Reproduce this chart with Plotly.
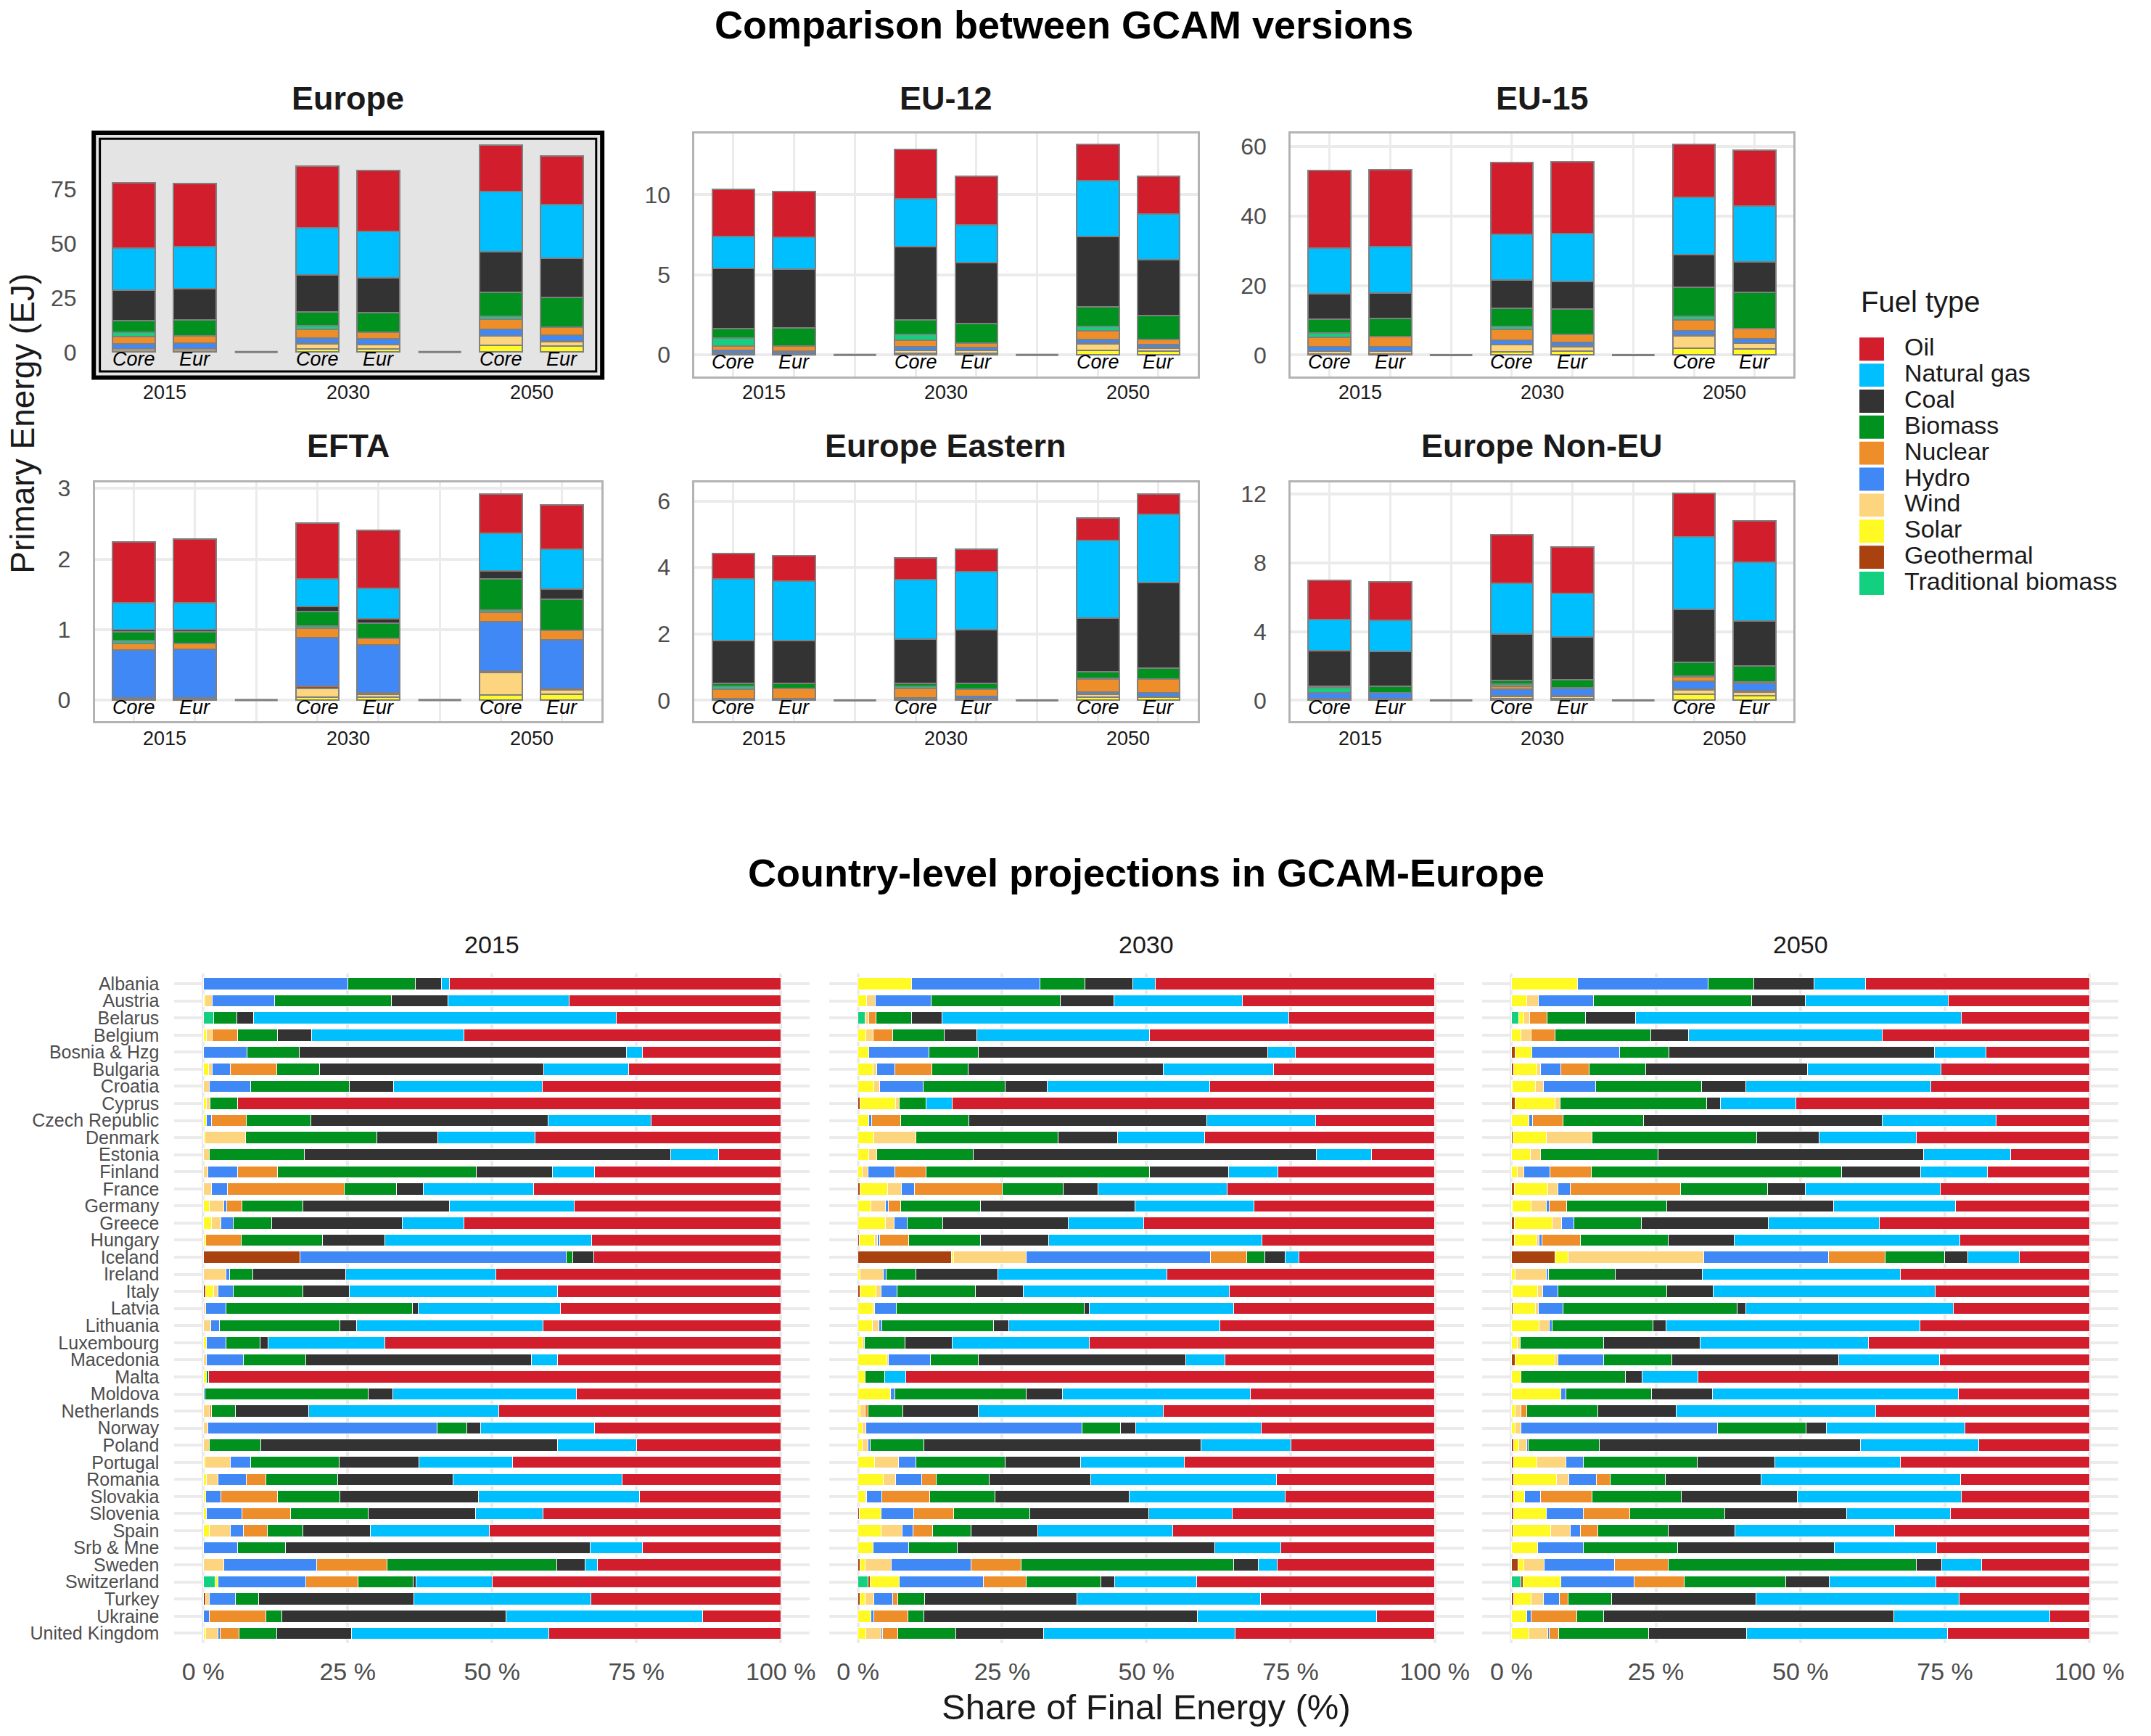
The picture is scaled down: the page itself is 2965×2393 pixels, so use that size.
"""GCAM の版比較と国別エネルギー構成を plotly で描く。"""

import plotly.graph_objects as go

# --- データ ---

FUELS = ["Oil", "Natural gas", "Coal", "Biomass", "Nuclear", "Hydro",
         "Wind", "Solar", "Geothermal", "Traditional biomass"]
FUEL_COLORS = ["#D11D2C", "#00BFFF", "#333333", "#00911F", "#EE8E2B", "#3F88F5",
               "#FCD57E", "#FFFA24", "#A9420F", "#13CF80"]

# 積み上げ順（下 → 上）
TOP_STACK = ["Solar", "Wind", "Geothermal", "Hydro", "Nuclear",
             "Traditional biomass", "Biomass", "Coal", "Natural gas", "Oil"]
# 積み上げ順（左 → 右）
BOTTOM_STACK = ["Traditional biomass", "Geothermal", "Solar", "Wind", "Hydro",
                "Nuclear", "Biomass", "Coal", "Natural gas", "Oil"]

YEARS = ["2015", "2030", "2050"]
SCENARIOS = ["Core", "Eur"]
BAR_SLOTS = ["2015 Core", "2015 Eur", "gap 1", "2030 Core", "2030 Eur",
             "gap 2", "2050 Core", "2050 Eur"]

REGIONS = ["Europe", "EU-12", "EU-15", "EFTA", "Europe Eastern", "Europe Non-EU"]

# 行 = TOP_STACK の燃料, 列 = Core2015, Eur2015, Core2030, Eur2030, Core2050, Eur2050 [EJ]
EUROPE = [
    [0.3, 0.3, 1.3, 1.6, 3.0, 2.9],
    [1.0, 1.1, 2.6, 1.9, 4.5, 2.0],
    [0.1, 0.1, 0.1, 0.1, 0.1, 0.1],
    [2.3, 2.5, 2.4, 2.5, 3.0, 2.8],
    [3.4, 3.5, 4.2, 2.9, 4.6, 3.8],
    [2.1, 0.0, 1.5, 0.0, 1.2, 0.0],
    [5.3, 7.4, 6.5, 9.2, 11.3, 13.6],
    [14.2, 14.3, 17.1, 16.0, 18.7, 17.9],
    [19.4, 19.4, 21.6, 21.4, 27.6, 25.0],
    [29.8, 29.2, 28.3, 28.1, 21.3, 22.2],
]
EU_12 = [
    [0.02, 0.02, 0.12, 0.12, 0.28, 0.25],
    [0.08, 0.08, 0.17, 0.16, 0.42, 0.15],
    [0.01, 0.01, 0.01, 0.01, 0.04, 0.06],
    [0.15, 0.14, 0.20, 0.18, 0.24, 0.20],
    [0.29, 0.32, 0.43, 0.28, 0.51, 0.30],
    [0.49, 0.0, 0.35, 0.0, 0.29, 0.0],
    [0.61, 1.11, 0.89, 1.21, 1.21, 1.51],
    [3.73, 3.68, 4.59, 3.78, 4.39, 3.47],
    [1.99, 1.99, 2.97, 2.39, 3.49, 2.83],
    [2.95, 2.85, 3.07, 3.00, 2.27, 2.38],
]
EU_15 = [
    [0.2, 0.2, 0.9, 1.2, 1.9, 1.7],
    [0.9, 0.9, 2.0, 1.2, 3.7, 1.7],
    [0.1, 0.1, 0.1, 0.1, 0.1, 0.1],
    [1.2, 1.2, 1.2, 1.1, 1.3, 1.2],
    [2.7, 2.8, 3.1, 2.4, 3.1, 2.9],
    [1.2, 0.0, 1.0, 0.0, 1.1, 0.0],
    [4.1, 5.4, 5.1, 7.2, 8.4, 10.5],
    [7.2, 7.3, 8.1, 7.9, 9.2, 8.8],
    [13.1, 13.2, 13.3, 13.9, 16.6, 15.9],
    [22.4, 22.2, 20.6, 20.7, 15.2, 16.1],
]
EFTA = [
    [0.0, 0.0, 0.04, 0.04, 0.07, 0.08],
    [0.01, 0.01, 0.13, 0.04, 0.32, 0.07],
    [0.02, 0.02, 0.03, 0.02, 0.02, 0.02],
    [0.68, 0.69, 0.69, 0.68, 0.70, 0.68],
    [0.09, 0.08, 0.13, 0.09, 0.14, 0.14],
    [0.04, 0.0, 0.03, 0.0, 0.03, 0.0],
    [0.13, 0.17, 0.21, 0.22, 0.44, 0.44],
    [0.03, 0.03, 0.07, 0.06, 0.11, 0.14],
    [0.38, 0.38, 0.39, 0.43, 0.54, 0.57],
    [0.86, 0.90, 0.79, 0.83, 0.55, 0.63],
]
EUROPE_EASTERN = [
    [0.0, 0.0, 0.02, 0.04, 0.10, 0.10],
    [0.0, 0.0, 0.01, 0.02, 0.08, 0.02],
    [0.0, 0.0, 0.0, 0.0, 0.0, 0.0],
    [0.05, 0.05, 0.04, 0.05, 0.07, 0.10],
    [0.29, 0.31, 0.29, 0.23, 0.40, 0.43],
    [0.09, 0.0, 0.07, 0.0, 0.02, 0.0],
    [0.08, 0.16, 0.09, 0.17, 0.20, 0.31],
    [1.30, 1.27, 1.33, 1.61, 1.61, 2.58],
    [1.84, 1.79, 1.79, 1.76, 2.33, 2.05],
    [0.78, 0.77, 0.65, 0.66, 0.68, 0.63],
]
EUROPE_NON_EU = [
    [0.0, 0.0, 0.12, 0.12, 0.35, 0.28],
    [0.05, 0.05, 0.10, 0.10, 0.25, 0.22],
    [0.05, 0.05, 0.06, 0.06, 0.07, 0.06],
    [0.32, 0.35, 0.39, 0.42, 0.45, 0.42],
    [0.02, 0.0, 0.16, 0.05, 0.25, 0.11],
    [0.30, 0.0, 0.11, 0.0, 0.06, 0.0],
    [0.08, 0.36, 0.21, 0.44, 0.77, 0.92],
    [2.05, 2.04, 2.71, 2.50, 3.10, 2.59],
    [1.83, 1.82, 2.94, 2.52, 4.22, 3.44],
    [2.29, 2.23, 2.82, 2.70, 2.53, 2.41],
]
REGION_DATA = [EUROPE, EU_12, EU_15, EFTA, EUROPE_EASTERN, EUROPE_NON_EU]
REGION_YTICKS = [[0, 25, 50, 75], [0, 5, 10], [0, 20, 40, 60],
                 [0, 1, 2, 3], [0, 2, 4, 6], [0, 4, 8, 12]]
REGION_YRANGE = [[-11.3, 100.7], [-1.35, 13.8], [-6.2, 63.7],
                 [-0.30, 3.09], [-0.63, 6.57], [-1.22, 12.7]]

COUNTRIES = [
    "Albania", "Austria", "Belarus", "Belgium", "Bosnia & Hzg", "Bulgaria",
    "Croatia", "Cyprus", "Czech Republic", "Denmark", "Estonia", "Finland",
    "France", "Germany", "Greece", "Hungary", "Iceland", "Ireland", "Italy",
    "Latvia", "Lithuania", "Luxembourg", "Macedonia", "Malta", "Moldova",
    "Netherlands", "Norway", "Poland", "Portugal", "Romania", "Slovakia",
    "Slovenia", "Spain", "Srb & Mne", "Sweden", "Switzerland", "Turkey",
    "Ukraine", "United Kingdom",
]

# 行 = 国, 列 = BOTTOM_STACK の燃料 [%]
SHARES_2015 = [
    [0, 0, 0, 0, 25.0, 0, 11.7, 4.6, 1.3, 57.4],
    [0, 0, 0.3, 1.3, 10.7, 0, 20.3, 9.8, 21.0, 36.6],
    [1.8, 0, 0, 0, 0, 0, 4.0, 2.9, 62.8, 28.5],
    [0, 0, 0.6, 1.0, 0, 4.4, 6.9, 5.8, 26.4, 54.9],
    [0, 0, 0, 0, 7.6, 0, 9.0, 56.7, 2.8, 23.9],
    [0, 0, 0.9, 0.7, 3.1, 8.0, 7.4, 38.9, 14.7, 26.3],
    [0, 0, 0, 1.0, 7.2, 0, 17.1, 7.7, 25.7, 41.3],
    [0, 0, 0.6, 0.6, 0, 0, 4.7, 0, 0, 94.1],
    [0, 0, 0.6, 0, 0.8, 6.0, 11.2, 41.1, 17.8, 22.5],
    [0, 0, 0.3, 7.0, 0, 0, 22.8, 10.5, 16.8, 42.6],
    [0, 0, 0, 1.1, 0, 0, 16.4, 63.4, 8.3, 10.8],
    [0, 0, 0, 0.8, 5.1, 7.0, 34.4, 13.2, 7.3, 32.2],
    [0, 0, 0, 1.4, 2.8, 20.2, 9.0, 4.7, 19.1, 42.8],
    [0, 0, 1.1, 2.4, 0.6, 2.6, 10.6, 25.3, 21.7, 35.7],
    [0, 0, 1.4, 1.6, 2.2, 0, 6.7, 22.6, 10.6, 54.9],
    [0, 0, 0.4, 0, 0, 6.2, 14.0, 10.9, 35.7, 32.8],
    [0, 16.8, 0, 0, 46.1, 0, 1.1, 3.6, 0, 32.4],
    [0, 0, 0, 4.0, 0.6, 0, 4.0, 16.1, 26.0, 49.3],
    [0, 0.4, 1.4, 0.7, 2.7, 0, 12.0, 8.1, 36.1, 38.6],
    [0, 0, 0, 0.4, 3.5, 0, 32.3, 1.0, 24.6, 38.2],
    [0, 0, 0, 1.3, 1.5, 0, 20.9, 2.8, 32.3, 41.2],
    [0, 0, 0.6, 0, 3.3, 0, 6.0, 1.3, 20.2, 68.6],
    [0, 0, 0, 0.5, 6.5, 0, 10.8, 39.0, 4.6, 38.6],
    [0, 0, 0.5, 0, 0, 0, 0.4, 0, 0, 99.1],
    [0, 0, 0, 0, 0.3, 0, 28.3, 4.2, 31.8, 35.4],
    [0, 0, 0, 1.0, 0, 0.4, 4.2, 12.6, 33.0, 48.8],
    [0, 0, 0, 0.8, 39.7, 0, 5.2, 2.3, 19.8, 32.2],
    [0, 0, 0, 1.1, 0, 0, 8.9, 51.3, 13.8, 24.9],
    [0, 0, 0.3, 4.4, 3.5, 0, 15.3, 13.9, 16.2, 46.4],
    [0, 0, 0.5, 2.1, 4.9, 3.3, 12.5, 19.9, 29.3, 27.5],
    [0, 0, 0.4, 0, 2.7, 9.8, 10.7, 24.0, 27.9, 24.5],
    [0, 0, 0.5, 0, 6.2, 8.4, 13.4, 18.6, 11.7, 41.2],
    [0, 0, 1.0, 3.7, 2.3, 4.1, 6.1, 11.8, 20.6, 50.4],
    [0, 0, 0, 0, 5.9, 0, 8.3, 52.8, 9.0, 24.0],
    [0, 0, 0, 3.6, 16.1, 12.1, 29.4, 4.9, 2.1, 31.8],
    [2.1, 0, 0.5, 0, 15.1, 9.1, 9.6, 0.5, 13.1, 50.0],
    [0, 0.4, 0, 0.7, 4.5, 0, 4.0, 26.9, 30.6, 32.9],
    [0, 0, 0, 0, 1.0, 9.8, 2.8, 38.8, 34.1, 13.5],
    [0, 0, 0.4, 2.1, 0.4, 3.3, 6.5, 13.0, 34.2, 40.1],
]
SHARES_2030 = [
    [0, 0, 9.3, 0, 22.2, 0, 7.9, 8.3, 3.8, 48.5],
    [0, 0, 1.5, 1.5, 9.7, 0, 22.4, 9.3, 22.2, 33.4],
    [1.2, 0, 0, 0.7, 0, 1.2, 6.2, 5.3, 60.1, 25.3],
    [0, 0, 1.4, 1.2, 0, 3.4, 9.0, 5.6, 30.0, 49.4],
    [0, 0, 1.9, 0, 10.4, 0, 8.5, 50.2, 4.8, 24.2],
    [0, 0, 2.6, 0.7, 3.1, 6.4, 6.3, 33.8, 19.1, 28.0],
    [0, 0, 2.8, 0.9, 7.6, 0, 14.2, 7.3, 28.2, 39.0],
    [0, 0.3, 6.2, 0.7, 0, 0, 4.6, 0, 4.5, 83.7],
    [0, 0, 1.9, 0, 0.5, 5.0, 11.8, 41.3, 18.8, 20.7],
    [0, 0, 2.8, 7.2, 0, 0, 24.7, 10.3, 15.1, 39.9],
    [0, 0, 1.9, 1.4, 0, 0, 16.7, 59.5, 9.5, 11.0],
    [0, 0, 0.7, 1.1, 4.6, 5.4, 38.8, 13.7, 8.5, 27.2],
    [0, 0.4, 4.7, 2.4, 2.3, 15.2, 10.6, 6.0, 22.4, 36.0],
    [0, 0, 2.2, 2.6, 0.4, 2.2, 13.8, 26.8, 20.6, 31.4],
    [0, 0, 4.8, 1.5, 2.2, 0, 6.2, 21.7, 13.1, 50.5],
    [0, 0.2, 2.7, 0.5, 0.3, 5.1, 12.4, 11.9, 36.9, 30.0],
    [0, 16.2, 0.4, 12.6, 31.9, 6.3, 3.1, 3.6, 2.3, 23.6],
    [0, 0, 0.4, 4.0, 0.5, 0, 5.2, 14.2, 29.3, 46.4],
    [0, 0.3, 2.8, 0.9, 2.8, 0, 13.5, 8.3, 35.8, 35.6],
    [0, 0, 2.6, 0.3, 3.8, 0, 32.5, 0.9, 25.0, 34.9],
    [0, 0, 2.5, 1.1, 0.5, 0, 19.4, 2.6, 36.6, 37.3],
    [0, 0, 0.7, 0.4, 0, 0, 7.1, 8.1, 23.8, 59.9],
    [0, 0, 5.0, 0.3, 7.3, 0, 8.2, 36.0, 6.8, 36.4],
    [0, 0, 1.2, 0, 0, 0, 3.4, 0, 3.7, 91.7],
    [0, 0, 5.7, 0, 0.7, 0, 22.8, 6.3, 32.5, 32.0],
    [0, 0, 0.4, 0.9, 0, 0.4, 6.1, 13.0, 32.1, 47.1],
    [0, 0, 0.7, 0.7, 37.4, 0, 6.7, 2.7, 21.7, 30.1],
    [0, 0, 0.7, 1.1, 0.3, 0, 9.3, 48.1, 15.6, 24.9],
    [0, 0, 2.9, 4.1, 3.0, 0, 15.5, 13.1, 18.0, 43.4],
    [0, 0, 4.4, 2.1, 4.5, 2.6, 9.2, 17.6, 32.1, 27.5],
    [0, 0, 1.3, 0.2, 2.6, 8.3, 11.4, 23.2, 27.1, 25.9],
    [0, 0.2, 3.8, 0, 5.7, 6.9, 13.2, 20.6, 14.5, 35.1],
    [0, 0, 4.0, 3.6, 1.9, 3.4, 6.7, 11.6, 23.4, 45.4],
    [0, 0, 2.6, 0, 6.2, 0, 8.4, 44.7, 11.4, 26.7],
    [0, 0.3, 0.9, 4.6, 13.8, 8.7, 36.8, 4.3, 3.3, 27.3],
    [1.8, 0.3, 5.1, 0, 14.6, 7.3, 13.0, 2.4, 14.2, 41.3],
    [0, 0.3, 0.9, 1.6, 3.2, 0.9, 4.6, 26.5, 31.8, 30.2],
    [0, 0, 2.2, 0, 0.6, 5.8, 2.8, 47.4, 31.1, 10.1],
    [0, 0, 1.4, 2.6, 0.2, 2.7, 10.1, 15.2, 33.2, 34.6],
]
SHARES_2050 = [
    [0, 0, 11.5, 0, 22.5, 0, 7.9, 10.4, 8.9, 38.8],
    [0, 0, 2.7, 2.0, 9.5, 0, 27.4, 9.3, 24.7, 24.4],
    [1.3, 0, 0.9, 1.0, 0, 3.0, 6.6, 8.7, 56.3, 22.2],
    [0, 0, 1.7, 1.7, 0, 4.1, 16.6, 6.6, 33.5, 35.8],
    [0, 0.7, 2.8, 0, 15.2, 0, 8.6, 45.9, 8.9, 17.9],
    [0, 0.4, 4.0, 0.7, 3.5, 4.8, 9.8, 28.0, 23.1, 25.7],
    [0, 0.2, 4.0, 1.3, 9.1, 0, 18.3, 7.7, 31.9, 27.5],
    [0, 0.7, 6.9, 0.8, 0, 0, 25.4, 2.3, 13.1, 50.8],
    [0, 0, 3.0, 0, 0.6, 5.3, 14.0, 41.2, 19.7, 16.2],
    [0, 0.3, 5.8, 7.9, 0, 0, 28.4, 10.8, 16.8, 30.0],
    [0, 0, 3.3, 1.8, 0, 0, 20.3, 45.9, 15.0, 13.7],
    [0, 0, 1.0, 1.1, 4.6, 7.1, 43.3, 13.7, 11.5, 17.7],
    [0, 0.5, 5.8, 1.7, 2.2, 19.1, 15.0, 6.6, 23.3, 25.8],
    [0, 0.2, 3.2, 2.7, 0.5, 2.9, 17.4, 28.8, 21.1, 23.2],
    [0, 0.5, 6.5, 1.7, 2.1, 0, 11.7, 21.9, 19.2, 36.4],
    [0, 0.5, 3.8, 0.5, 0.5, 6.6, 15.2, 11.4, 39.1, 22.4],
    [0, 7.5, 2.3, 23.5, 21.6, 9.7, 10.3, 4.0, 8.9, 12.2],
    [0, 0, 0.7, 5.4, 0.3, 0, 11.6, 15.0, 34.3, 32.7],
    [0, 0.2, 4.3, 0.9, 2.7, 0, 18.8, 8.0, 38.4, 26.7],
    [0, 0.3, 3.9, 0.5, 4.2, 0, 30.1, 1.5, 35.9, 23.6],
    [0, 0, 4.8, 1.7, 0.6, 0, 17.4, 2.3, 43.9, 29.3],
    [0, 0, 1.0, 0.5, 0, 0, 14.4, 16.7, 29.1, 38.3],
    [0, 0.6, 6.9, 0.5, 8.0, 0, 11.7, 28.9, 17.5, 25.9],
    [0, 0, 1.7, 0, 0, 0, 18.0, 2.9, 9.7, 67.7],
    [0, 0, 8.5, 0, 0.9, 0, 14.9, 10.5, 42.5, 22.7],
    [0, 0, 0.7, 1.0, 0, 1.0, 12.3, 13.5, 34.5, 37.0],
    [0, 0, 0.7, 0.9, 34.1, 0, 15.3, 3.5, 23.9, 21.6],
    [0, 0.4, 0.9, 1.3, 0.3, 0, 12.3, 45.2, 20.4, 19.2],
    [0, 0.4, 4.0, 5.0, 3.0, 0, 19.7, 13.5, 21.7, 32.7],
    [0, 0.4, 7.4, 2.1, 4.8, 2.4, 9.5, 16.6, 34.5, 22.3],
    [0, 0.4, 1.9, 0, 2.8, 8.9, 15.4, 20.1, 28.3, 22.2],
    [0, 0.4, 5.6, 0, 6.4, 8.1, 16.4, 21.1, 18.0, 24.0],
    [0, 0.3, 6.5, 3.4, 1.7, 3.1, 12.1, 11.6, 27.6, 33.7],
    [0, 0, 4.6, 0, 7.8, 0, 16.3, 27.2, 17.7, 26.4],
    [0, 1.1, 1.0, 3.6, 12.2, 9.2, 42.9, 4.4, 6.9, 18.7],
    [1.7, 0.3, 6.6, 0, 12.6, 8.7, 17.6, 7.5, 18.4, 26.6],
    [0, 0.4, 3.0, 2.2, 2.7, 1.5, 7.6, 24.9, 35.1, 22.6],
    [0, 0, 2.7, 0, 0.7, 7.9, 4.7, 50.2, 26.9, 6.9],
    [0, 0, 3.0, 3.3, 0.3, 1.6, 15.5, 17.0, 34.7, 24.6],
]
YEAR_SHARES = [SHARES_2015, SHARES_2030, SHARES_2050]
SHARE_TICKS = [0, 25, 50, 75, 100]

# --- レイアウト定数（ピクセル） ---

FIG_W, FIG_H = 2965, 2393
FONT = "Liberation Sans, Arial, sans-serif"
TEXT_GRAY = "#4D4D4D"
GRID_COLOR = "#EBEBEB"
BORDER_COLOR = "#B3B3B3"
OUTLINE_GRAY = "#7F7F7F"

TOP_COLS = [(131, 831), (960, 1655), (1784, 2479)]
TOP_ROWS = [(176, 512), (658, 989)]
TOP_TITLE_Y = [131, 612]
TOP_YEAR_Y = [537, 1016]
BOTTOM_COLS = [(241, 1119), (1146, 2023), (2049, 2928)]
BOTTOM_ROW = (1338, 2265)

LEGEND_X = 2570
LEGEND_TITLE_Y = 413
LEGEND_FIRST_Y = 474
LEGEND_STEP = 36


def fx(px: float) -> float:
    return px / FIG_W


def fy(py: float) -> float:
    return 1 - py / FIG_H


def axis_suffix(n: int) -> str:
    return "" if n == 1 else str(n)


def paper_text(text, x, y, size, color="#1A1A1A", xanchor="center", angle=0):
    # 文字の見た目の中心を合わせるため、フォントサイズに応じて少し持ち上げる
    return dict(text=text, x=fx(x), y=fy(y), xref="paper", yref="paper",
                xanchor=xanchor, yanchor="middle", showarrow=False,
                yshift=0 if angle else round(0.1 * size),
                textangle=angle, font=dict(family=FONT, size=size, color=color))


fig = go.Figure()
layout_axes = {}
annotations = []
shapes = []
fuel_color = dict(zip(FUELS, FUEL_COLORS))

# --- 上段: 地域別の一次エネルギー ---

bar_x = [f"{year} {scen}" for year in YEARS for scen in SCENARIOS]

for r, region in enumerate(REGIONS):
    s = axis_suffix(r + 1)
    col = TOP_COLS[r % 3]
    row = TOP_ROWS[r // 3]
    xname, yname = f"x{s}", f"y{s}"
    data = REGION_DATA[r]

    for f, fuel in enumerate(TOP_STACK):
        fig.add_trace(go.Bar(
            x=bar_x, y=data[f], xaxis=xname, yaxis=yname,
            marker=dict(color=fuel_color[fuel],
                        line=dict(color=OUTLINE_GRAY, width=2)),
            name=fuel, showlegend=False, hoverinfo="skip",
        ))

    highlight = region == "Europe"
    layout_axes[f"xaxis{s}"] = dict(
        domain=[fx(col[0]), fx(col[1])], anchor=yname,
        type="category", categoryorder="array", categoryarray=BAR_SLOTS,
        range=[-0.64, len(BAR_SLOTS) - 0.36], showticklabels=False, ticks="",
        showgrid=not highlight, gridcolor=GRID_COLOR, gridwidth=2.5,
        showline=not highlight, mirror=True, linecolor=BORDER_COLOR, linewidth=3,
        fixedrange=True,
    )
    layout_axes[f"yaxis{s}"] = dict(
        domain=[fy(row[1]), fy(row[0])], anchor=xname,
        range=REGION_YRANGE[r], tickvals=REGION_YTICKS[r], ticks="",
        tickfont=dict(family=FONT, size=32, color=TEXT_GRAY), ticklabelstandoff=24,
        showgrid=not highlight, gridcolor=GRID_COLOR, gridwidth=4, zeroline=False,
        showline=not highlight, mirror=True, linecolor=BORDER_COLOR, linewidth=3,
        fixedrange=True,
    )

    if highlight:
        shapes.append(dict(type="rect", xref=f"{xname} domain", yref=f"{yname} domain",
                           x0=0, x1=1, y0=0, y1=1, fillcolor="#E4E4E4",
                           line=dict(width=0), layer="below"))
        shapes.append(dict(type="rect", xref=f"{xname} domain", yref=f"{yname} domain",
                           x0=-0.002, x1=1.002, y0=-0.004, y1=1.004,
                           line=dict(color="black", width=6), layer="above"))
        dx = 7 / (col[1] - col[0])
        dy = 7 / (row[1] - row[0])
        shapes.append(dict(type="rect", xref=f"{xname} domain", yref=f"{yname} domain",
                           x0=dx, x1=1 - dx, y0=dy, y1=1 - dy,
                           line=dict(color="black", width=3), layer="above"))

    # 年の区切り（空きスロットの短い線）
    for slot in BAR_SLOTS:
        if slot.startswith("gap"):
            i = BAR_SLOTS.index(slot)
            shapes.append(dict(type="line", xref=xname, yref=yname,
                               x0=i - 0.35, x1=i + 0.35, y0=0, y1=0,
                               line=dict(color=OUTLINE_GRAY, width=3)))

    # シナリオ名と年ラベル
    for label in bar_x:
        annotations.append(dict(
            text=f"<i>{label.split()[1]}</i>", x=BAR_SLOTS.index(label), y=0,
            xref=xname, yref=yname, yanchor="middle", yshift=-10, showarrow=False,
            font=dict(family=FONT, size=27, color="black"),
        ))
    for year in YEARS:
        annotations.append(dict(
            text=year, x=BAR_SLOTS.index(f"{year} Core") + 0.5, y=fy(TOP_YEAR_Y[r // 3]),
            xref=xname, yref="paper", yanchor="middle", yshift=3, showarrow=False,
            font=dict(family=FONT, size=27, color="#1A1A1A"),
        ))

    annotations.append(paper_text(f"<b>{region}</b>", (col[0] + col[1]) / 2,
                                  TOP_TITLE_Y[r // 3], 45))

# --- 下段: 国別の最終エネルギー構成 ---

for c, year in enumerate(YEARS):
    s = axis_suffix(7 + c)
    col = BOTTOM_COLS[c]
    xname, yname = f"x{s}", f"y{s}"
    shares = YEAR_SHARES[c]

    for f, fuel in enumerate(BOTTOM_STACK):
        fig.add_trace(go.Bar(
            x=[row[f] for row in shares], y=COUNTRIES, orientation="h",
            xaxis=xname, yaxis=yname,
            marker=dict(color=fuel_color[fuel], line=dict(color="white", width=1)),
            name=fuel, showlegend=False, hoverinfo="skip",
        ))

    layout_axes[f"xaxis{s}"] = dict(
        domain=[fx(col[0]), fx(col[1])], anchor=yname,
        range=[-5, 105], tickmode="array", tickvals=SHARE_TICKS,
        ticktext=[f"{v} %" for v in SHARE_TICKS], ticks="",
        tickfont=dict(family=FONT, size=34, color=TEXT_GRAY), ticklabelstandoff=16,
        showgrid=True, gridcolor=GRID_COLOR, gridwidth=4, zeroline=False,
        fixedrange=True,
    )
    layout_axes[f"yaxis{s}"] = dict(
        domain=[fy(BOTTOM_ROW[1]), fy(BOTTOM_ROW[0])], anchor=xname,
        type="category", categoryorder="array", categoryarray=COUNTRIES,
        tickmode="array", tickvals=COUNTRIES, ticktext=COUNTRIES,
        range=[len(COUNTRIES) - 0.4, -0.6], ticks="",
        showticklabels=c == 0, ticklabelstandoff=20,
        tickfont=dict(family=FONT, size=25, color=TEXT_GRAY),
        showgrid=True, gridcolor=GRID_COLOR, gridwidth=4, fixedrange=True,
    )
    annotations.append(paper_text(year, (col[0] + col[1]) / 2, 1301, 34))

# --- 見出し・軸タイトル ---

annotations.append(paper_text("<b>Comparison between GCAM versions</b>", 1470, 30, 54, "black"))
annotations.append(paper_text("<b>Country-level projections in GCAM-Europe</b>", 1584, 1204, 54, "black"))
annotations.append(paper_text("Primary Energy (EJ)", 31, 577, 46, "#1A1A1A", angle=-90))
annotations.append(paper_text("Share of Final Energy (%)", 1584, 2358, 49))

# --- 凡例 ---

annotations.append(paper_text("Fuel type", LEGEND_X, LEGEND_TITLE_Y, 40, xanchor="left"))
for i, fuel in enumerate(FUELS):
    cy = LEGEND_FIRST_Y + i * LEGEND_STEP
    shapes.append(dict(type="rect", xref="paper", yref="paper",
                       x0=fx(LEGEND_X), x1=fx(LEGEND_X + 34),
                       y0=fy(cy + 16), y1=fy(cy - 16),
                       fillcolor=fuel_color[fuel], line=dict(width=0)))
    annotations.append(paper_text(fuel, LEGEND_X + 60, cy, 34, xanchor="left"))

fig.update_layout(
    width=FIG_W, height=FIG_H,
    margin=dict(l=0, r=0, t=0, b=0),
    paper_bgcolor="white", plot_bgcolor="white",
    barmode="stack", bargap=0.3,
    showlegend=False,
    font=dict(family=FONT, color="#1A1A1A"),
    annotations=annotations, shapes=shapes,
    **layout_axes,
)

# ページ既定の余白を消して、図を左上に合わせる
fig.write_html("out.html", config={"displayModeBar": False},
               post_script="document.body.style.margin = '0px';")
